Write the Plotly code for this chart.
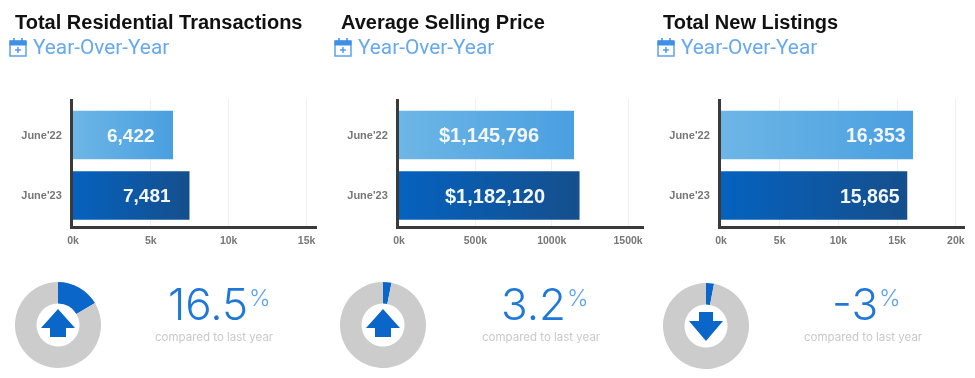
import plotly.graph_objects as go

W, H = 975, 378
categories = ["June'22", "June'23"]
titles = ["Total Residential Transactions", "Average Selling Price", "Total New Listings"]
transactions = [6422, 7481]
prices = [1145796, 1182120]
listings = [16353, 15865]
change_pct = [16.5, 3.2, -3]
change_labels = ["16.5", "3.2", "-3"]
value_labels = [["6,422", "7,481"], ["$1,145,796", "$1,182,120"], ["16,353", "15,865"]]
tick_vals = [[0, 5000, 10000, 15000], [0, 500000, 1000000, 1500000], [0, 5000, 10000, 15000, 20000]]
tick_text = [["0k", "5k", "10k", "15k"], ["0k", "500k", "1000k", "1500k"], ["0k", "5k", "10k", "15k", "20k"]]

series = [transactions, prices, listings]
x_px = [(73, 317), (399, 644), (721, 965)]
x_max = [15670, 1604000, 20783]
label_pad = [16, 33, 5]
label_size = [19, 20, 19.5]
title_x = [13, 339, 661]
sub_x = [31, 356, 679]
icon_x = [10, 335, 658]
donut_c = [(58, 325), (383, 325), (706, 326)]
pct_right = [250, 568, 880]
note_c = [214, 541, 863]

BLUE = "#0a66c8"
bar_colors = ["#60aee0", "#0b5cad"]

def px(x):
    return x / W

def py(y):
    return 1 - y / H

fig = go.Figure()
shapes, ann = [], []

for p, vals in enumerate(series):
    s = "" if p == 0 else str(p + 1)
    fig.add_trace(go.Bar(y=categories, x=vals, orientation="h", width=0.8, xaxis="x" + s, yaxis="y" + s,
                         marker=dict(color=bar_colors, line_width=0), showlegend=False, hoverinfo="skip"))
    for c, v in enumerate(vals):
        ann.append(dict(x=v, y=categories[c], xref="x" + s, yref="y" + s, text=value_labels[p][c],
                        showarrow=False, xanchor="right", xshift=-label_pad[p],
                        font=dict(family="Liberation Sans", size=label_size[p], color="#f2f6fb", weight="bold")))
    fig.update_layout({
        "xaxis" + s: dict(domain=[px(x_px[p][0]), px(x_px[p][1])], range=[0, x_max[p]], anchor="y" + s,
                          tickvals=tick_vals[p], ticktext=tick_text[p], ticks="", showgrid=True,
                          gridcolor="#f0f0f0", gridwidth=1, zeroline=False, showline=True,
                          linecolor="#3a3a3a", linewidth=3, ticklabelstandoff=2,
                          tickfont=dict(family="Liberation Sans", size=10.5, color="#777777", weight="bold")),
        "yaxis" + s: dict(domain=[py(226), py(99)], range=[1.504, -0.595], type="category", anchor="x" + s,
                          categoryorder="array", categoryarray=categories, ticks="", showgrid=False,
                          zeroline=False, showline=True, linecolor="#3a3a3a", linewidth=3, ticklabelstandoff=6,
                          tickfont=dict(family="Liberation Sans", size=11, color="#777777", weight="bold")),
    })

    # headings
    ann.append(dict(x=px(title_x[p]), y=py(22), xref="paper", yref="paper", text=titles[p], showarrow=False,
                    xanchor="left", yanchor="middle",
                    font=dict(family="Liberation Sans", size=20, color="#111111", weight="bold")))
    ann.append(dict(x=px(sub_x[p]), y=py(47), xref="paper", yref="paper", text="Year-Over-Year", showarrow=False,
                    xanchor="left", yanchor="middle",
                    font=dict(family="Roboto", size=20.8, color="#66a9ee")))

    # calendar icon
    ix = icon_x[p]
    shapes.append(dict(type="rect", xref="paper", yref="paper", x0=px(ix), x1=px(ix + 16), y0=py(41), y1=py(56),
                       line=dict(color="#5da3ea", width=1.5), fillcolor="white"))
    shapes.append(dict(type="rect", xref="paper", yref="paper", x0=px(ix), x1=px(ix + 16), y0=py(41), y1=py(45),
                       line=dict(color="#3f8fe6", width=1), fillcolor="#3f8fe6"))
    for dx in (4, 12):
        shapes.append(dict(type="line", xref="paper", yref="paper", x0=px(ix + dx), x1=px(ix + dx), y0=py(38), y1=py(42),
                           line=dict(color="#3f8fe6", width=1.5)))
    shapes.append(dict(type="line", xref="paper", yref="paper", x0=px(ix + 5), x1=px(ix + 11), y0=py(50), y1=py(50),
                       line=dict(color="#3f8fe6", width=1.3)))
    shapes.append(dict(type="line", xref="paper", yref="paper", x0=px(ix + 8), x1=px(ix + 8), y0=py(47), y1=py(53),
                       line=dict(color="#3f8fe6", width=1.3)))

    # donut
    cx, cy = donut_c[p]
    r = 43
    fig.add_trace(go.Pie(values=[abs(change_pct[p]), 100 - abs(change_pct[p])], hole=0.5, sort=False,
                         direction="clockwise", rotation=0, textinfo="none", hoverinfo="skip", showlegend=False,
                         marker=dict(colors=[BLUE, "#cccccc"], line_width=0),
                         domain=dict(x=[px(cx - r), px(cx + r)], y=[py(cy + r), py(cy - r)])))

    # arrow
    if change_pct[p] >= 0:
        pts = [(0, -16), (17, 3), (8, 3), (8, 12), (-8, 12), (-8, 3), (-17, 3)]
    else:
        pts = [(0, 15), (17, -5), (7, -5), (7, -14), (-7, -14), (-7, -5), (-17, -5)]
    path = "M" + " L".join(f"{px(cx + a):.5f},{py(cy + b):.5f}" for a, b in pts) + " Z"
    shapes.append(dict(type="path", xref="paper", yref="paper", path=path, fillcolor=BLUE, line_width=0))

    # percent
    ann.append(dict(x=px(pct_right[p]), y=py(303.5), xref="paper", yref="paper", text=change_labels[p], showarrow=False,
                    xanchor="right", yanchor="middle",
                    font=dict(family="Inter", size=44, color="#1f78d8", weight=300)))
    ann.append(dict(x=px(pct_right[p] - 3), y=py(298), xref="paper", yref="paper", text="%", showarrow=False,
                    xanchor="left", yanchor="middle",
                    font=dict(family="Inter", size=23, color="#5da3ea", weight=300)))
    ann.append(dict(x=px(note_c[p]), y=py(336.5), xref="paper", yref="paper", text="compared to last year",
                    showarrow=False, xanchor="center", yanchor="middle",
                    font=dict(family="Inter", size=11.5, color="#c9c9c9")))

fig.update_layout(width=W, height=H, margin=dict(l=0, r=0, t=0, b=0, autoexpand=False),
                  paper_bgcolor="white", plot_bgcolor="white", shapes=shapes, annotations=ann)

# plotly has no gradient fill for bars, so the drawn bars get an SVG gradient after rendering
post = """
document.body.style.margin='0';document.body.style.overflow='hidden';
var gd=document.querySelector('.plotly-graph-div');
var svg=gd.querySelector('svg.main-svg');
var ns='http://www.w3.org/2000/svg';
var defs=document.createElementNS(ns,'defs');
[['g0','#6db6e6','#4a9fe0'],['g1','#0562bf','#154f8c']].forEach(function(g){
  var lg=document.createElementNS(ns,'linearGradient');lg.setAttribute('id',g[0]);
  [[0,g[1]],[1,g[2]]].forEach(function(st){
    var e=document.createElementNS(ns,'stop');e.setAttribute('offset',st[0]);e.setAttribute('stop-color',st[1]);lg.appendChild(e);});
  defs.appendChild(lg);});
svg.appendChild(defs);
gd.querySelectorAll('.barlayer .point path').forEach(function(b,i){b.style.fill='url(#g'+(i%2)+')';});
gd.style.filter='blur(0.5px)';
"""
fig.write_html("out.html", config={"displayModeBar": False}, post_script=post)
